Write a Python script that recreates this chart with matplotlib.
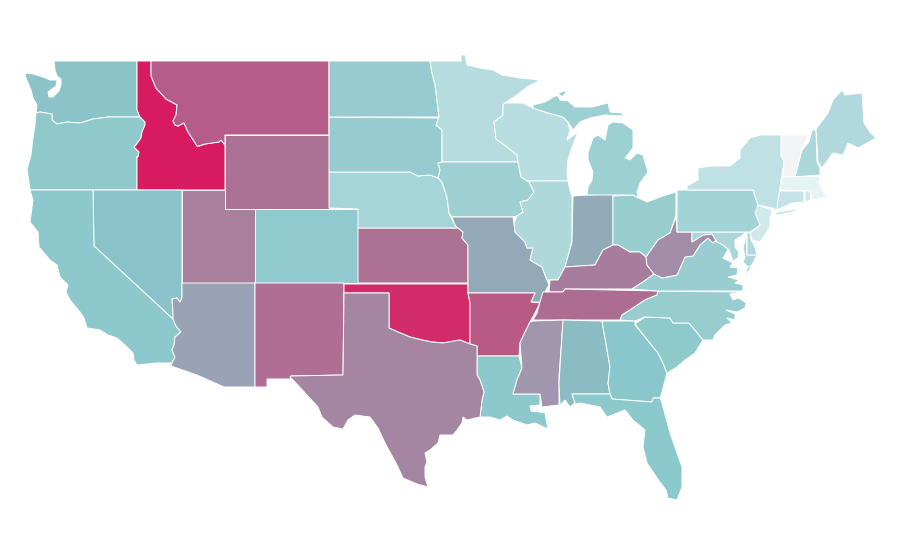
import matplotlib
matplotlib.use("Agg")
import matplotlib.pyplot as plt
from matplotlib.patches import Polygon

# no map files in the sandbox, so the state outlines are traced from the picture (pixels)
outlines = {
    "WA": [(54,61),(137,61),(137,110),(140,117),(108,117),(93,119),(80,123),(67,122),(57,124),(52,120),(52,114),(40,112),(36,113),(37,105),(33,98),(31,90),(26,78),(25,73),(33,74),(43,77),(50,80),(57,80),(56,86),(48,92),(49,97),(53,97),(59,91),(61,85),(61,79),(57,76),(55,70)],
    "OR": [(36,113),(40,112),(52,114),(52,120),(57,124),(67,122),(80,123),(93,119),(108,117),(140,117),(145,122),(145,125),(142,132),(141,138),(136,145),(134,147),(139,152),(138,157),(137,157),(137,190),(30,190),(28,175),(27,170),(31,155),(33,138),(35,125)],
    "ID": [(137,61),(151,61),(151,76),(156,88),(166,99),(177,105),(176,115),(173,121),(175,125),(178,126),(184,123),(188,132),(192,138),(197,146),(199,146),(205,144),(219,142),(221,140),(225,145),(225,190),(137,190),(137,157),(138,157),(139,152),(134,147),(136,145),(141,138),(142,132),(145,125),(145,122),(140,117),(137,110)],
    "MT": [(151,61),(329,61),(329,135),(225,135),(225,145),(221,140),(219,142),(205,144),(199,146),(197,146),(192,138),(188,132),(184,123),(178,126),(175,125),(173,121),(176,115),(177,105),(166,99),(156,88),(151,76)],
    "WY": [(225,135),(329,135),(329,209),(225,209)],
    "NV": [(93,190),(182,190),(182,298),(180,302),(177,298),(172,299),(173,313),(173,319),(94,246)],
    "CA": [(30,190),(93,190),(94,246),(173,319),(176,326),(181,332),(175,337),(174,345),(172,350),(175,357),(172,363),(157,363),(137,365),(134,360),(133,353),(127,347),(117,338),(108,335),(100,330),(87,328),(84,318),(80,312),(70,300),(66,292),(68,285),(60,277),(57,265),(50,260),(39,247),(38,232),(30,222),(33,200)],
    "UT": [(182,190),(225,190),(225,209),(255,209),(255,283),(182,283)],
    "CO": [(255,209),(358,209),(358,283),(255,283)],
    "AZ": [(182,283),(255,283),(255,387),(224,387),(197,375),(171,366),(172,363),(175,357),(172,350),(174,345),(175,337),(181,332),(176,326),(173,319),(173,313),(172,299),(177,298),(180,302),(182,298)],
    "NM": [(255,283),(344,283),(343,375),(291,376),(291,379),(267,379),(267,387),(255,387)],
    "OK": [(344,284),(468,284),(468,293),(470,303),(470,344),(460,340),(443,343),(432,342),(422,340),(410,337),(398,332),(389,328),(389,293),(344,293)],
    "KS": [(358,228),(458,228),(463,232),(462,238),(468,245),(468,283),(358,283)],
    "NE": [(329,172),(410,172),(418,176),(430,175),(438,178),(442,182),(447,197),(449,213),(455,225),(458,228),(358,228),(358,209),(329,208)],
    "SD": [(329,117),(439,118),(436,125),(442,130),(442,162),(438,163),(440,170),(438,178),(430,175),(418,176),(410,172),(329,172)],
    "ND": [(329,61),(430,61),(432,73),(435,85),(437,100),(439,117),(329,117)],
    "MN": [(430,61),(461,61),(461,55),(465,55),(467,65),(480,68),(493,70),(502,75),(520,78),(540,80),(527,87),(517,95),(505,103),(503,105),(503,115),(494,122),(496,139),(507,147),(517,155),(518,162),(442,162),(442,130),(436,125),(439,117),(437,100),(435,85),(432,73)],
    "IA": [(442,162),(518,162),(519,167),(521,177),(528,180),(534,192),(528,200),(520,202),(523,212),(517,216),(513,217),(452,217),(449,213),(447,197),(442,182),(438,178),(440,170),(438,163)],
    "MO": [(452,217),(513,217),(514,223),(515,232),(525,242),(527,248),(533,248),(530,260),(542,267),(547,280),(549,285),(545,292),(540,302),(531,302),(535,293),(468,293),(468,245),(462,238),(463,232),(458,228),(455,225)],
    "AR": [(468,293),(535,293),(531,302),(540,303),(535,313),(530,322),(525,332),(520,343),(519,356),(477,356),(477,346),(470,344),(470,303)],
    "LA": [(477,356),(519,356),(522,368),(517,380),(513,394),(540,394),(540,405),(530,406),(531,411),(540,412),(545,413),(548,429),(535,423),(527,425),(513,420),(507,416),(500,420),(490,417),(480,417),(482,400),(484,392),(480,380),(477,375)],
    "TX": [(344,293),(389,293),(389,328),(398,332),(410,337),(422,340),(432,342),(443,343),(460,340),(470,344),(477,346),(477,375),(480,380),(484,392),(482,400),(480,417),(467,420),(463,417),(462,423),(457,430),(453,435),(440,435),(438,443),(430,450),(425,453),(427,462),(425,467),(425,477),(428,487),(417,484),(403,478),(397,465),(390,452),(385,443),(378,428),(370,417),(355,415),(348,420),(343,429),(333,427),(322,417),(318,407),(307,395),(295,382),(290,377),(291,376),(343,375)],
    "WI": [(503,105),(505,103),(523,103),(533,108),(548,113),(563,117),(568,122),(570,130),(567,140),(578,132),(572,147),(568,160),(567,170),(568,181),(527,181),(521,177),(519,167),(518,162),(517,155),(507,147),(496,139),(494,122),(503,115)],
    "IL": [(527,181),(568,181),(570,190),(572,197),(572,240),(570,250),(565,267),(559,280),(550,280),(547,280),(542,267),(530,260),(533,248),(527,248),(525,242),(515,232),(514,223),(517,216),(523,212),(520,202),(528,200),(534,192),(528,180)],
    "IN": [(573,196),(587,195),(613,194),(613,245),(603,250),(595,265),(565,267),(572,242)],
    "OH": [(613,196),(633,195),(647,202),(663,196),(676,192),(676,215),(670,233),(658,240),(653,247),(646,257),(640,252),(630,252),(618,245),(613,245)],
    "KY": [(618,245),(630,252),(640,252),(646,257),(647,265),(654,274),(643,282),(632,289),(565,289),(563,292),(549,292),(550,280),(558,280),(565,267),(595,265),(603,250),(613,245)],
    "TN": [(565,289),(658,291),(657,295),(645,300),(633,308),(622,315),(620,320),(533,320),(537,313),(540,302),(543,292),(563,292)],
    "MS": [(533,321),(563,320),(559,377),(559,405),(542,407),(540,394),(513,394),(517,380),(522,368),(520,343),(525,332),(530,322)],
    "AL": [(563,320),(602,321),(610,367),(608,383),(610,394),(572,394),(575,403),(570,407),(565,400),(560,405),(559,383)],
    "GA": [(602,321),(635,321),(635,325),(645,337),(658,353),(663,363),(667,373),(662,392),(660,398),(653,398),(652,402),(612,399),(610,394),(608,383),(610,367)],
    "SC": [(635,324),(645,317),(670,318),(673,323),(689,323),(703,340),(695,353),(685,360),(677,367),(667,373),(663,363),(658,353),(645,337)],
    "NC": [(620,320),(622,315),(633,308),(645,300),(657,295),(658,291),(743,292),(730,294),(733,300),(738,298),(742,300),(746,303),(745,308),(737,312),(726,310),(735,314),(735,320),(727,318),(732,323),(725,325),(715,335),(713,340),(703,340),(689,323),(673,323),(670,318),(645,317),(635,321)],
    "VA": [(632,289),(643,282),(654,274),(662,278),(677,275),(685,257),(693,256),(700,245),(708,238),(717,242),(723,245),(729,248),(723,258),(733,263),(730,267),(738,268),(737,275),(728,277),(739,280),(735,283),(743,285),(743,291),(658,291)],
    "VA_e": [(752,266),(748,267),(745,275),(743,280),(747,273)],
    "WV": [(676,217),(677,232),(692,232),(692,242),(703,235),(712,234),(716,240),(713,243),(708,238),(700,245),(693,256),(685,257),(677,275),(662,278),(654,274),(647,265),(646,257),(653,247),(658,240),(670,233)],
    "MD": [(692,232),(745,232),(743,235),(735,240),(735,247),(739,252),(738,258),(733,261),(729,250),(723,245),(717,242),(712,234),(703,235),(692,242)],
    "MD_e": [(746,233),(747,255),(757,255),(752,265),(748,267),(743,262),(745,257),(743,248),(745,240)],
    "DE": [(747,233),(750,232),(751,240),(755,247),(757,255),(747,255)],
    "NJ": [(758,205),(772,210),(770,220),(770,227),(760,242),(752,240),(750,233),(760,225),(755,213)],
    "PA": [(677,190),(687,190),(753,190),(757,202),(758,205),(755,213),(760,225),(750,232),(677,232)],
    "NY": [(687,190),(687,186),(698,180),(698,168),(710,166),(730,166),(740,158),(740,150),(750,138),(760,135),(781,135),(781,155),(784,162),(780,187),(778,203),(777,210),(772,208),(758,205),(757,202),(753,190)],
    "LI": [(773,213),(802,208),(792,212),(778,215)],
    "VT": [(782,135),(808,135),(802,150),(795,177),(783,177),(784,162),(781,155)],
    "NH": [(812,130),(816,130),(817,162),(820,168),(820,175),(795,177),(802,150),(809,142)],
    "ME": [(816,129),(828,113),(833,100),(842,90),(845,95),(862,93),(864,123),(870,132),(876,138),(858,148),(848,143),(843,155),(833,153),(822,168),(818,162)],
    "MA": [(782,177),(820,176),(819,183),(825,195),(830,196),(822,198),(812,200),(810,191),(780,190)],
    "CT": [(780,191),(804,191),(804,202),(792,203),(777,210),(778,200)],
    "RI": [(805,191),(810,191),(811,200),(805,202)],
    "MI": [(587,195),(633,195),(638,198),(637,192),(640,183),(648,172),(643,155),(637,153),(630,160),(625,158),(633,148),(633,130),(623,123),(613,122),(608,125),(605,140),(598,135),(593,138),(588,153),(588,160),(593,172),(592,180),(588,187)],
    "MI_up": [(533,105),(545,102),(557,95),(560,100),(568,101),(575,107),(592,107),(608,103),(610,112),(622,113),(623,116),(605,115),(590,118),(580,122),(573,130),(568,122),(563,117),(548,113),(533,108)],
    "MI_isle": [(558,93),(568,90),(562,97)],
    "FL": [(572,394),(610,394),(612,399),(652,402),(653,398),(660,398),(662,403),(670,433),(682,467),(682,487),(677,500),(668,498),(666,490),(657,478),(647,463),(643,447),(645,430),(633,420),(625,410),(607,417),(600,407),(580,403),(573,405),(575,403)],
}

colors = {
    "WA": "#8BC3C8", "OR": "#8FC9CC", "CA": "#8DC9CC", "NV": "#89C2C8", "ID": "#D81B60",
    "MT": "#B55D8A", "WY": "#AC7296", "UT": "#A87F9D", "CO": "#90CACE", "AZ": "#99A3B5",
    "NM": "#B06E94", "ND": "#96CCCF", "SD": "#96CCCF", "NE": "#A5D5D8", "KS": "#AD7194",
    "OK": "#D22B69", "TX": "#A486A3", "MN": "#B6DCDF", "IA": "#9ED0D3", "MO": "#94A9B7",
    "AR": "#B95A85", "LA": "#8DC9CC", "WI": "#B9DEE1", "IL": "#AFD8DB", "MI": "#9DD0D3",
    "MI_up": "#9DD0D3", "MI_isle": "#9DD0D3", "IN": "#92ABB8", "OH": "#98CDD0", "KY": "#A67D9D",
    "TN": "#AD6D92", "MS": "#A097AE", "AL": "#8BBCC3", "GA": "#8AC7CC", "FL": "#8CC9CC",
    "SC": "#8EC9CC", "NC": "#98CDD0", "VA": "#99CDD1", "VA_e": "#99CDD1", "WV": "#A28CA7",
    "MD": "#AAD6D9", "MD_e": "#AAD6D9", "DE": "#B0D9DC", "PA": "#A2D3D6", "NJ": "#D0E9EB",
    "NY": "#C0E1E4", "LI": "#C0E1E4", "CT": "#C5E3E6", "RI": "#CEE8EA", "MA": "#E6F3F5",
    "VT": "#F3F4F6", "NH": "#ABD7DA", "ME": "#B1D9DD",
}

fig = plt.figure(figsize=(9, 5.6), dpi=100)
ax = fig.add_axes([0, 0, 1, 1])
for state, points in outlines.items():
    ax.add_patch(Polygon(points, closed=True, facecolor=colors[state], edgecolor="white", linewidth=0.7))
ax.set_xlim(0, 900)
ax.set_ylim(560, 0)
ax.axis("off")
fig.savefig("out.png", dpi=100)
